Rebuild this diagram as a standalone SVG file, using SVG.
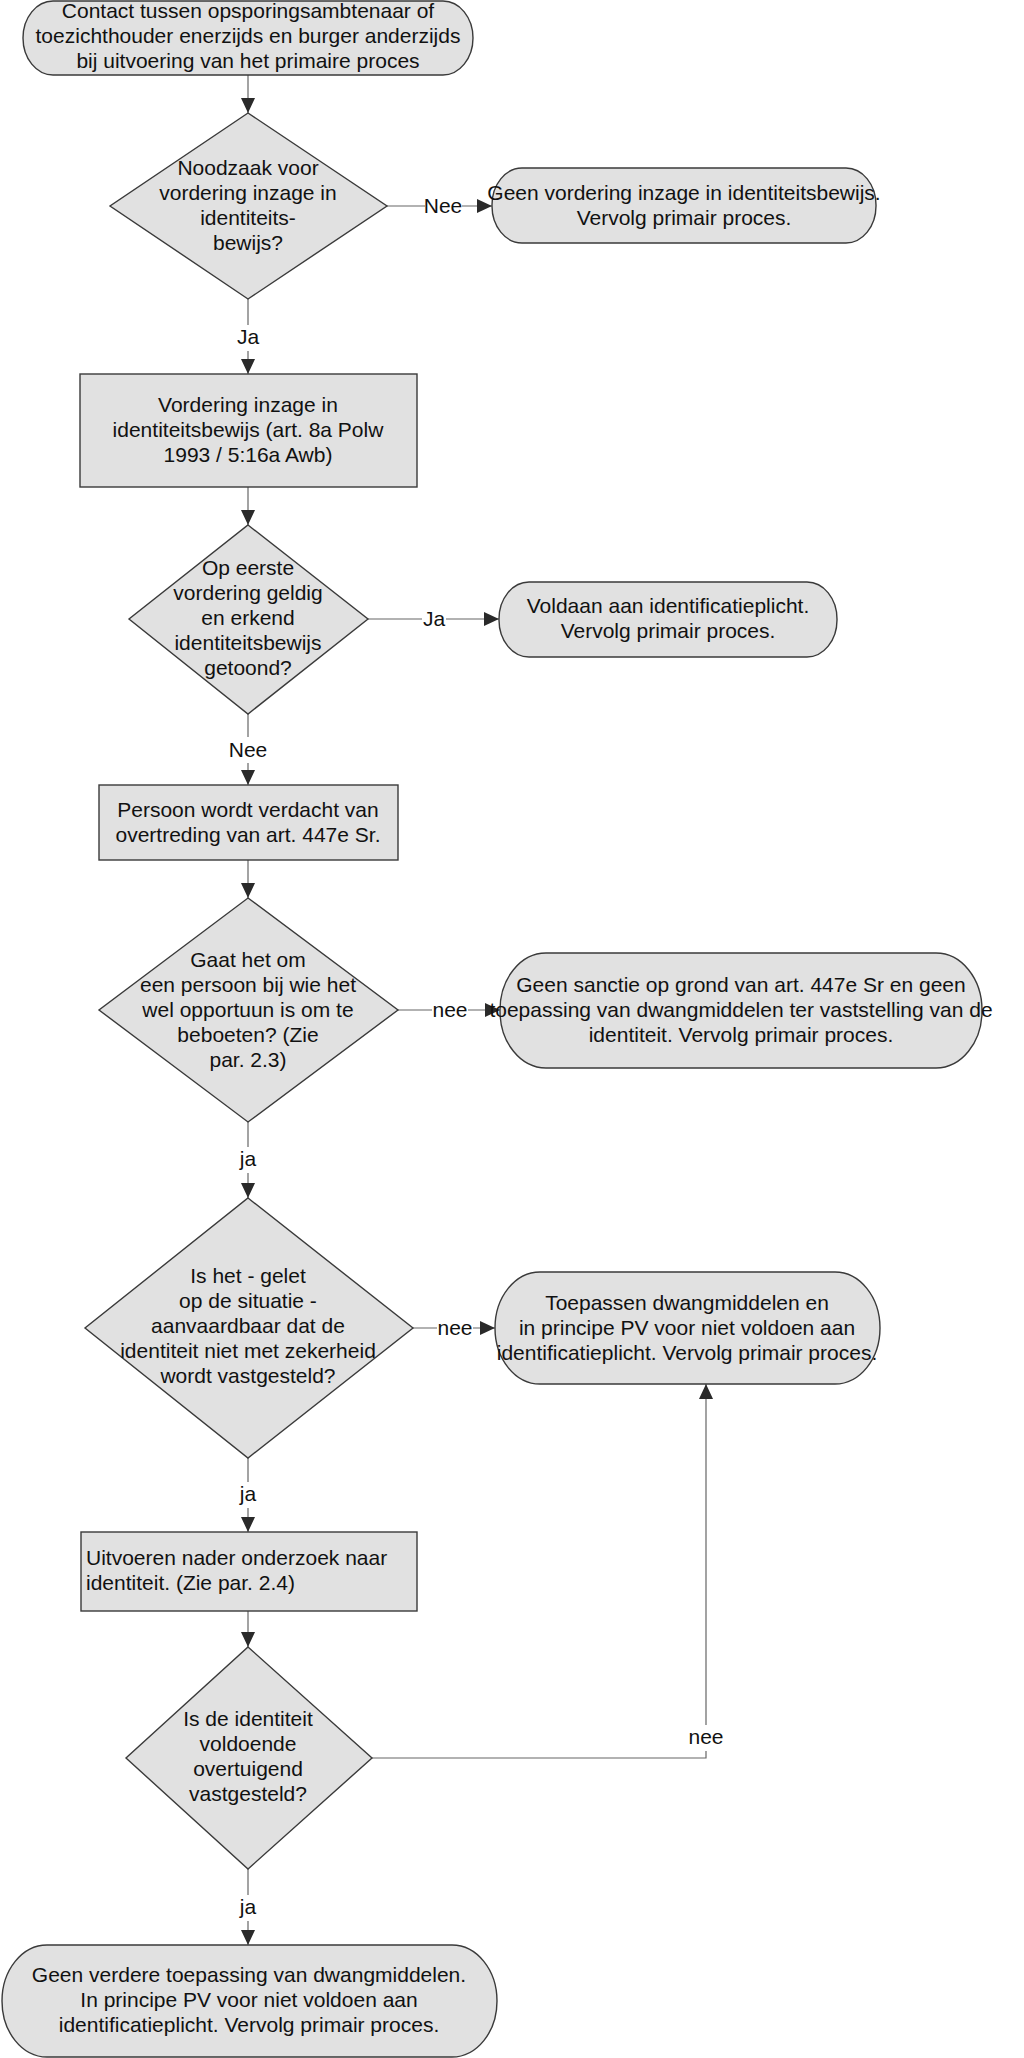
<svg xmlns="http://www.w3.org/2000/svg" width="1024" height="2058" viewBox="0 0 1024 2058">
<style>
.shape{fill:#e1e1e1;stroke:#3a3a3a;stroke-width:1.4}
.t{font-family:"Liberation Sans",Arial,sans-serif;font-size:21px;fill:#111;text-anchor:middle}
.tl{font-family:"Liberation Sans",Arial,sans-serif;font-size:21px;fill:#111;text-anchor:start}
.c{fill:none;stroke:#666;stroke-width:1.2}
.lb{fill:#fff}
</style>
<defs>
<marker id="arr" markerUnits="userSpaceOnUse" markerWidth="16" markerHeight="14" refX="15" refY="7" orient="auto">
<path d="M0,0 L15,7 L0,14 z" fill="#2a2a2a"/>
</marker>
</defs>
<rect width="1024" height="2058" fill="#fff"/>

<g id="connectors">
<path class="c" d="M248,75 V113" marker-end="url(#arr)"/>
<path class="c" d="M387,206 H492" marker-end="url(#arr)"/>
<path class="c" d="M248,299 V374" marker-end="url(#arr)"/>
<path class="c" d="M248,487 V525" marker-end="url(#arr)"/>
<path class="c" d="M368,619 H499" marker-end="url(#arr)"/>
<path class="c" d="M248,714 V785" marker-end="url(#arr)"/>
<path class="c" d="M248,860 V898" marker-end="url(#arr)"/>
<path class="c" d="M398,1010 H500" marker-end="url(#arr)"/>
<path class="c" d="M248,1122 V1198" marker-end="url(#arr)"/>
<path class="c" d="M413,1328 H495" marker-end="url(#arr)"/>
<path class="c" d="M248,1458 V1532" marker-end="url(#arr)"/>
<path class="c" d="M248,1611 V1647" marker-end="url(#arr)"/>
<path class="c" d="M372,1758 H706 V1384" marker-end="url(#arr)"/>
<path class="c" d="M248,1869 V1945" marker-end="url(#arr)"/>
<g id="labels">
<rect class="lb" x="425" y="196" width="37" height="20"/><text class="t" x="443" y="213">Nee</text>
<rect class="lb" x="234" y="325" width="28" height="26"/><text class="t" x="248" y="344">Ja</text>
<rect class="lb" x="422" y="609" width="24" height="20"/><text class="t" x="434" y="626">Ja</text>
<rect class="lb" x="229" y="737" width="38" height="26"/><text class="t" x="248" y="757">Nee</text>
<rect class="lb" x="432" y="1000" width="36" height="20"/><text class="t" x="450" y="1017">nee</text>
<rect class="lb" x="238" y="1147" width="20" height="26"/><text class="t" x="248" y="1166">ja</text>
<rect class="lb" x="437" y="1318" width="36" height="20"/><text class="t" x="455" y="1335">nee</text>
<rect class="lb" x="238" y="1482" width="20" height="26"/><text class="t" x="248" y="1501">ja</text>
<rect class="lb" x="688" y="1725" width="36" height="26"/><text class="t" x="706" y="1744">nee</text>
<rect class="lb" x="238" y="1895" width="20" height="26"/><text class="t" x="248" y="1914">ja</text>
</g>
</g>

<g id="start">
<rect class="shape" x="23" y="1" width="450" height="74" rx="30" ry="37"/>
<text class="t" x="248" y="18">Contact tussen opsporingsambtenaar of</text>
<text class="t" x="248" y="43">toezichthouder enerzijds en burger anderzijds</text>
<text class="t" x="248" y="68">bij uitvoering van het primaire proces</text>
</g>

<g id="d1">
<polygon class="shape" points="248,113 387,206 248,299 110,206"/>
<text class="t" x="248" y="175">Noodzaak voor</text>
<text class="t" x="248" y="200">vordering inzage in</text>
<text class="t" x="248" y="225">identiteits-</text>
<text class="t" x="248" y="250">bewijs?</text>
</g>

<g id="end1">
<rect class="shape" x="492" y="168" width="384" height="75" rx="30" ry="37"/>
<text class="t" x="684" y="200">Geen vordering inzage in identiteitsbewijs.</text>
<text class="t" x="684" y="225">Vervolg primair proces.</text>
</g>

<g id="r1">
<rect class="shape" x="80" y="374" width="337" height="113"/>
<text class="t" x="248" y="412">Vordering inzage in</text>
<text class="t" x="248" y="437">identiteitsbewijs (art. 8a Polw</text>
<text class="t" x="248" y="462">1993 / 5:16a Awb)</text>
</g>

<g id="d2">
<polygon class="shape" points="248,525 368,619 248,714 129,619"/>
<text class="t" x="248" y="575">Op eerste</text>
<text class="t" x="248" y="600">vordering geldig</text>
<text class="t" x="248" y="625">en erkend</text>
<text class="t" x="248" y="650">identiteitsbewijs</text>
<text class="t" x="248" y="675">getoond?</text>
</g>

<g id="end2">
<rect class="shape" x="499" y="582" width="338" height="75" rx="30" ry="37"/>
<text class="t" x="668" y="613">Voldaan aan identificatieplicht.</text>
<text class="t" x="668" y="638">Vervolg primair proces.</text>
</g>

<g id="r2">
<rect class="shape" x="99" y="785" width="299" height="75"/>
<text class="t" x="248" y="817">Persoon wordt verdacht van</text>
<text class="t" x="248" y="842">overtreding van art. 447e Sr.</text>
</g>

<g id="d3">
<polygon class="shape" points="248,898 398,1010 248,1122 99,1010"/>
<text class="t" x="248" y="967">Gaat het om</text>
<text class="t" x="248" y="992">een persoon bij wie het</text>
<text class="t" x="248" y="1017">wel opportuun is om te</text>
<text class="t" x="248" y="1042">beboeten? (Zie</text>
<text class="t" x="248" y="1067">par. 2.3)</text>
</g>

<g id="end3">
<rect class="shape" x="500" y="953" width="482" height="115" rx="46" ry="57"/>
<text class="t" x="741" y="992">Geen sanctie op grond van art. 447e Sr en geen</text>
<text class="t" x="741" y="1017">toepassing van dwangmiddelen ter vaststelling van de</text>
<text class="t" x="741" y="1042">identiteit. Vervolg primair proces.</text>
</g>

<g id="d4">
<polygon class="shape" points="248,1198 413,1328 248,1458 85,1328"/>
<text class="t" x="248" y="1283">Is het - gelet</text>
<text class="t" x="248" y="1308">op de situatie -</text>
<text class="t" x="248" y="1333">aanvaardbaar dat de</text>
<text class="t" x="248" y="1358">identiteit niet met zekerheid</text>
<text class="t" x="248" y="1383">wordt vastgesteld?</text>
</g>

<g id="end4">
<rect class="shape" x="495" y="1272" width="385" height="112" rx="45" ry="56"/>
<text class="t" x="687" y="1310">Toepassen dwangmiddelen en</text>
<text class="t" x="687" y="1335">in principe PV voor niet voldoen aan</text>
<text class="t" x="687" y="1360">identificatieplicht. Vervolg primair proces.</text>
</g>

<g id="r3">
<rect class="shape" x="81" y="1532" width="336" height="79"/>
<text class="tl" x="86" y="1565">Uitvoeren nader onderzoek naar</text>
<text class="tl" x="86" y="1590">identiteit. (Zie par. 2.4)</text>
</g>

<g id="d5">
<polygon class="shape" points="248,1647 372,1758 248,1869 126,1758"/>
<text class="t" x="248" y="1726">Is de identiteit</text>
<text class="t" x="248" y="1751">voldoende</text>
<text class="t" x="248" y="1776">overtuigend</text>
<text class="t" x="248" y="1801">vastgesteld?</text>
</g>

<g id="end5">
<rect class="shape" x="2" y="1945" width="495" height="112" rx="45" ry="56"/>
<text class="t" x="249" y="1982">Geen verdere toepassing van dwangmiddelen.</text>
<text class="t" x="249" y="2007">In principe PV voor niet voldoen aan</text>
<text class="t" x="249" y="2032">identificatieplicht. Vervolg primair proces.</text>
</g>
</svg>
